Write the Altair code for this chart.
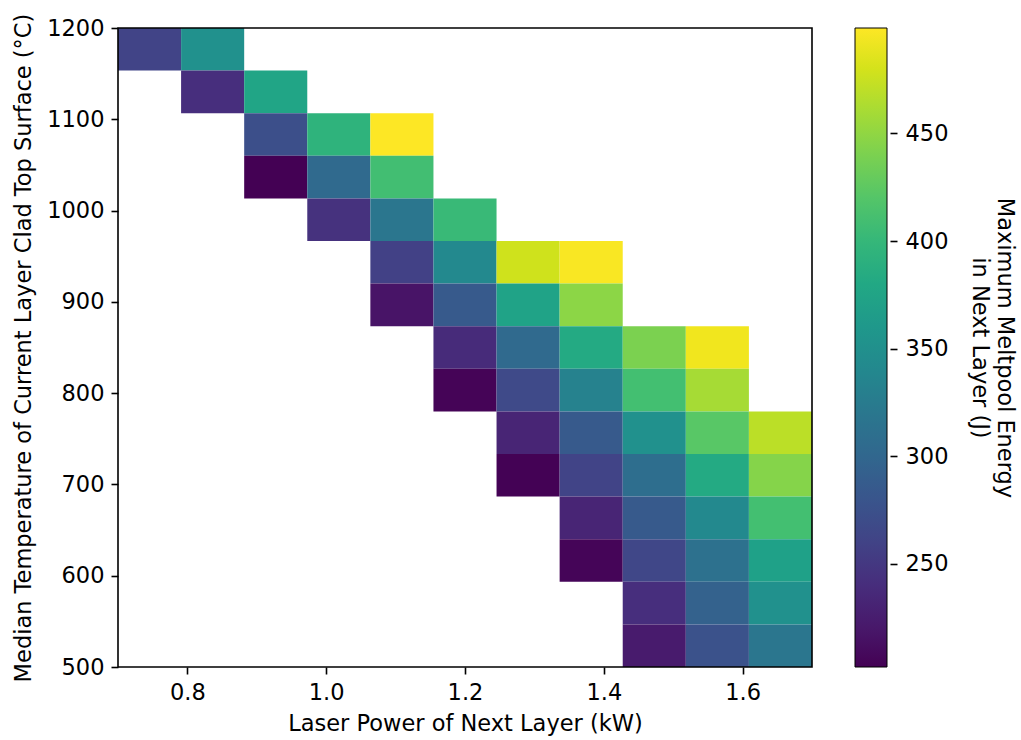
import altair as alt
import numpy as np
import pandas as pd

# Bin edges of the 2-D histogram (11 power bins, 15 temperature bins)
power_edges = np.linspace(0.7, 1.7, 12)
temp_edges_top_down = np.linspace(1200, 500, 16)

# For each power column: index (from the top) of the first filled temperature row,
# then the energy values going downwards
col_start_row = [0, 0, 1, 2, 2, 4, 5, 5, 7, 7, 9]
col_energy = [
    [261],
    [350, 241],
    [376, 273, 202],
    [395, 303, 244],
    [499, 409, 318, 258, 217],
    [403, 342, 285, 238, 204],
    [478, 374, 303, 267, 232, 203],
    [497, 448, 383, 332, 285, 261, 232, 205],
    [440, 410, 350, 309, 285, 264, 241, 223],
    [493, 460, 422, 383, 342, 312, 294, 276],
    [469, 445, 410, 371, 350, 318],
]

x_ticks = [0.8, 1.0, 1.2, 1.4, 1.6]
y_ticks = [500, 600, 700, 800, 900, 1000, 1100, 1200]
cbar_ticks = [250, 300, 350, 400, 450]
cbar_domain = [202, 499]

rows = []
for c, (start, vals) in enumerate(zip(col_start_row, col_energy)):
    for k, v in enumerate(vals):
        r = start + k
        rows.append({
            "x": power_edges[c], "x2": power_edges[c + 1],
            "y": temp_edges_top_down[r + 1], "y2": temp_edges_top_down[r],
            "energy": v,
        })
df = pd.DataFrame(rows)

FONT = "DejaVu Sans"
FS = 22.5

heat = alt.Chart(df).mark_rect(strokeWidth=0).encode(
    x=alt.X("x:Q", scale=alt.Scale(domain=[0.7, 1.7], nice=False, zero=False),
            axis=alt.Axis(values=x_ticks, format=".1f", title="Laser Power of Next Layer (kW)",
                          titlePadding=9)),
    x2="x2:Q",
    y=alt.Y("y:Q", scale=alt.Scale(domain=[500, 1200], nice=False, zero=False),
            axis=alt.Axis(values=y_ticks, format="d",
                          title="Median Temperature of Current Layer Clad Top Surface (°C)",
                          titlePadding=11)),
    y2="y2:Q",
    color=alt.Color("energy:Q",
                    scale=alt.Scale(scheme="viridis", domain=cbar_domain),
                    legend=alt.Legend(orient="none", legendX=737, legendY=0,
                                      direction="vertical", gradientLength=639,
                                      gradientThickness=32, gradientStrokeColor="black",
                                      gradientStrokeWidth=1, title=None, padding=0,
                                      labelExpr="''", labelFontSize=1, values=cbar_ticks,
                                      zindex=0)),
)

frame = alt.Chart(pd.DataFrame({"a": [0]})).mark_rect(
    fillOpacity=0, stroke="black", strokeWidth=1.6
).encode(
    x=alt.datum(0.7), x2=alt.datum(1.7), y=alt.datum(500), y2=alt.datum(1200)
)

cbar_axis = alt.Chart(pd.DataFrame({"v": cbar_ticks})).mark_point(opacity=0).encode(
    y=alt.Y("v:Q", scale=alt.Scale(domain=cbar_domain, nice=False, zero=False),
            axis=alt.Axis(orient="right", offset=78, values=cbar_ticks, domain=False,
                          labelPadding=8,
                          title=["Maximum Meltpool Energy", "in Next Layer (J)"],
                          titlePadding=20, zindex=2))
)

chart = alt.layer(alt.layer(heat, frame), cbar_axis).resolve_scale(
    y="independent"
).properties(
    width=694, height=639,
    autosize=alt.AutoSizeParams(type="none"),
    padding={"left": 118, "top": 28, "right": 209, "bottom": 73},
).configure_axis(
    labelFont=FONT, titleFont=FONT, labelFontSize=FS, titleFontSize=FS,
    titleFontWeight="normal", labelColor="black", titleColor="black",
    tickColor="black", tickSize=7, tickWidth=1.6, labelPadding=7,
    grid=False, domain=False, zindex=1,
).configure_view(stroke=None)

chart.save("out.html", embed_options={"renderer": "svg", "actions": False})
